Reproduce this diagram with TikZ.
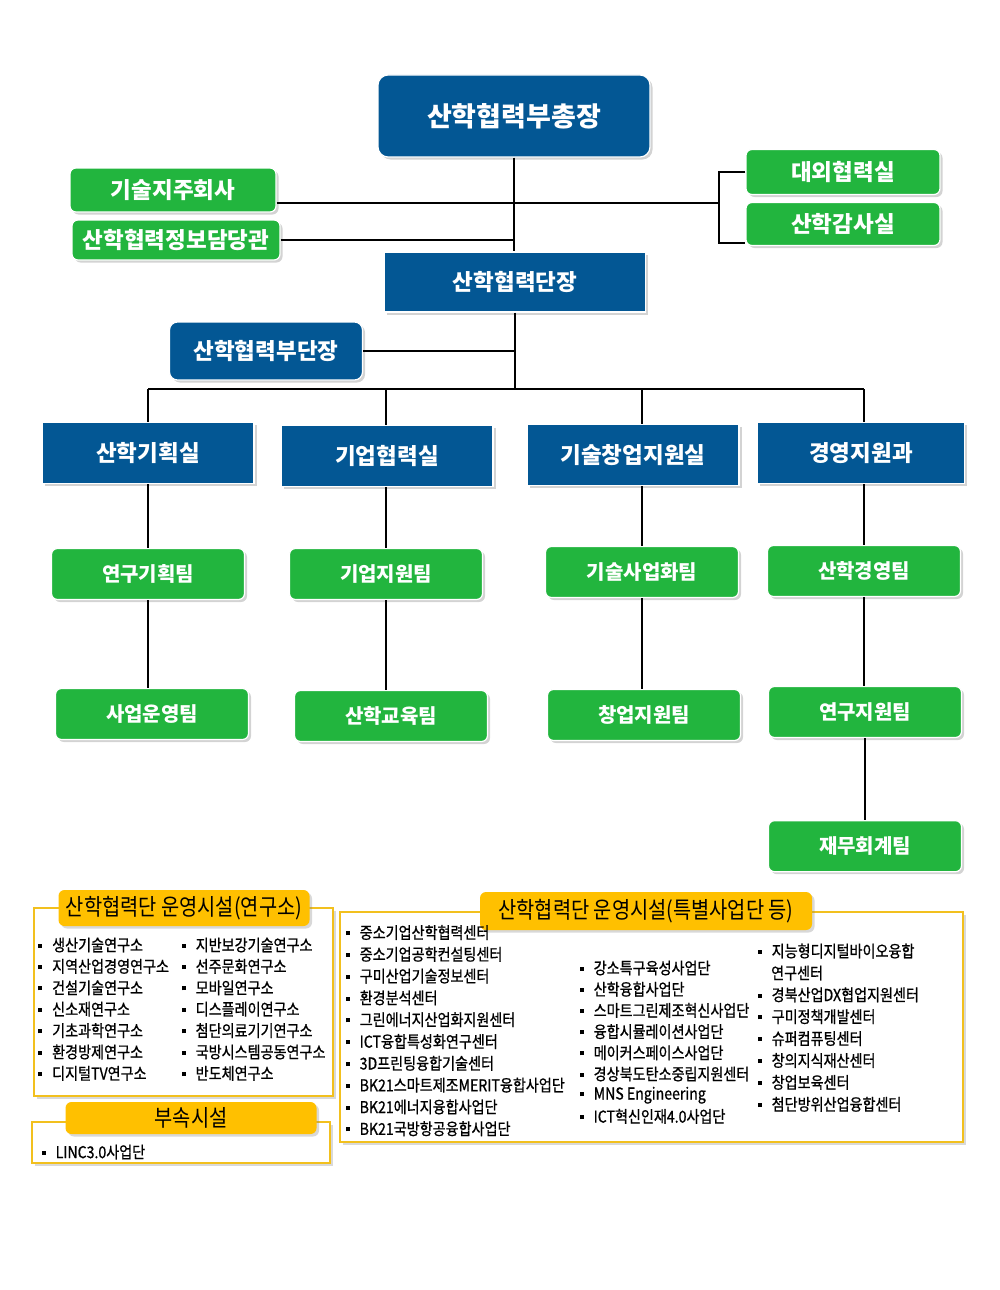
\documentclass[tikz,border=0pt]{standalone}
\usepackage{fontspec}
\setmainfont{Noto Sans CJK KR}
\newfontfamily\narrowfont{Noto Sans CJK KR}[FakeStretch=0.86]
\newfontfamily\itemfont{Noto Sans CJK KR}[FakeStretch=0.86,FakeBold=0.8]
\usetikzlibrary{positioning,shadows}

\definecolor{orgblue}{RGB}{3,87,148}
\definecolor{orggreen}{RGB}{34,181,62}
\definecolor{tabyellow}{RGB}{255,192,0}
\definecolor{lineyellow}{RGB}{242,192,30}

% small square bullet in front of each list entry
\newcommand\sq{\raisebox{3.5pt}{\rule{4pt}{4pt}}\hspace{10pt}}

\begin{document}
\begin{tikzpicture}[x=1pt,y=-1pt,
    box/.style={draw=white, line width=1.2pt, text=white, inner sep=0pt,
      font=\bfseries\fontsize{22.5}{26}\selectfont,
      drop shadow={shadow xshift=2.5pt, shadow yshift=-2.5pt, opacity=.35}},
    bluebox/.style={box, fill=orgblue, minimum width=212pt, minimum height=61pt},
    bluerbox/.style={bluebox, rounded corners=8pt},
    greenbox/.style={box, fill=orggreen, rounded corners=6pt, minimum width=193pt,
      minimum height=51pt, font=\bfseries\fontsize{20}{24}\selectfont},
    topgreen/.style={greenbox, minimum width=206pt, minimum height=44pt,
      font=\bfseries\fontsize{22.5}{26}\selectfont},
    link/.style={draw=black, line width=2.2pt},
    frame/.style={draw=lineyellow, line width=1.8pt, fill=white,
      drop shadow={shadow xshift=3pt, shadow yshift=-3pt, opacity=.3}},
    tab/.style={fill=tabyellow, rounded corners=6pt, inner sep=0pt,
      font=\narrowfont\fontsize{23}{26}\selectfont,
      drop shadow={shadow xshift=2.5pt, shadow yshift=-2.5pt, opacity=.3}},
    item/.style={anchor=west, inner sep=0pt, font=\itemfont\fontsize{16.4}{19}\selectfont}]

  \useasboundingbox (0,0) rectangle (1000,1290);

  % top level
  \node[bluerbox, minimum width=272pt, minimum height=82pt, rounded corners=10pt,
        font=\bfseries\fontsize{27}{30}\selectfont] (vp) at (514,116) {산학협력부총장};
  \node[topgreen] (jiju) at (173,190) {기술지주회사};
  \node[topgreen, minimum width=208pt, minimum height=40pt] (info) at (176,240) {산학협력정보담당관};
  \node[topgreen, minimum width=194pt, minimum height=45pt] (ext) at (843,172) {대외협력실};
  \node[topgreen, minimum width=194pt, minimum height=43pt] (aud) at (843,224) {산학감사실};
  \node[bluebox, minimum width=261pt, minimum height=60pt] (dj) at (515,282) {산학협력단장};
  \node[bluerbox, minimum width=193pt, minimum height=58pt] (bj) at (266,351) {산학협력부단장};

  % departments
  \node[bluebox] (plan) at (148,453) {산학기획실};
  \node[bluebox] (coop) at (387,456) {기업협력실};
  \node[bluebox] (venture) at (633,455) {기술창업지원실};
  \node[bluebox, minimum width=207pt] (mgmt) at (861,453) {경영지원과};

  % teams
  \node[greenbox] (research) at (148,574) {연구기획팀};
  \node[greenbox] (biz) at (386,574) {기업지원팀};
  \node[greenbox] (commer) at (642,572) {기술사업화팀};
  \node[greenbox] (uimgmt) at (864,571) {산학경영팀};
  \node[greenbox] (oper) at (152,714) {사업운영팀};
  \node[greenbox] (edu) at (391,716) {산학교육팀};
  \node[greenbox] (startup) at (644,715) {창업지원팀};
  \node[greenbox] (rsupport) at (865,712) {연구지원팀};
  \node[greenbox] (finance) [below=82pt of rsupport] {재무회계팀};

  \coordinate (br) at (719,203);
  \coordinate (bus) at (514,389);

  \draw[link] (vp.south) -- (vp.south |- dj.north);
  \draw[link] (jiju.east |- br) -- (br);
  \draw[link] (ext.west) -| (br) |- ([yshift=3pt]aud.south west);
  \draw[link] (info.east) -- (info.east -| vp.south);
  \draw[link] (bj.east) -- (bj.east -| dj.south);
  \draw[link] (dj.south) -- (dj.south |- bus);
  \draw[link] (research.north |- bus) -- (uimgmt.north |- bus);
  \foreach \d/\t/\s in {plan/research/oper, coop/biz/edu, venture/commer/startup, mgmt/uimgmt/rsupport} {
    \draw[link] (\t.north |- bus) -- (\t.north |- \d.north);
    \draw[link] (\t.north |- \d.south) -- (\t.north);
    \draw[link] (\t.south) -- (\t.south |- \s.north);
  }
  \draw[link] (rsupport.south) -- (finance.north);

  % facilities
  \draw[frame] (34,908) rectangle (333,1096);
  \draw[frame] (32,1122) rectangle (330,1163);
  \draw[frame] (340,912) rectangle (963,1142);
  \node[tab, minimum width=251pt, minimum height=36pt] (labtab) at (184,908) {산학협력단 운영시설(연구소)};
  \node[tab, minimum width=251pt, minimum height=32pt] (subtab) at (191,1118) {부속시설};
  \node[tab, minimum width=332pt, minimum height=38pt] (spectab) at (646,911) {산학협력단 운영시설(특별사업단 등)};

  \foreach \t [count=\i from 0] in {생산기술연구소, 지역산업경영연구소, 건설기술연구소, 신소재연구소,
      기초과학연구소, 환경방제연구소, 디지털TV연구소}
    \node[item] (laba\i) at (38,945+21.4*\i) {\sq\t};
  \foreach \t [count=\i from 0] in {지반보강기술연구소, 선주문화연구소, 모바일연구소, 디스플레이연구소,
      첨단의료기기연구소, 국방시스템공동연구소, 반도체연구소}
    \node[item] (labb\i) at (181.5,945+21.4*\i) {\sq\t};
  \node[item] (linc) at (41.5,1152) {\sq LINC3.0사업단};

  \foreach \t [count=\i from 0] in {중소기업산학협력센터, 중소기업공학컨설팅센터, 구미산업기술정보센터,
      환경분석센터, 그린에너지산업화지원센터, ICT융합특성화연구센터, 3D프린팅융합기술센터,
      BK21스마트제조MERIT융합사업단, BK21에너지융합사업단, BK21국방항공융합사업단}
    \node[item] (spa\i) at (345.5,932.5+21.8*\i) {\sq\t};
  \foreach \t [count=\i from 0] in {강소특구육성사업단, 산학융합사업단, 스마트그린제조혁신사업단,
      융합시뮬레이션사업단, 메이커스페이스사업단, 경상북도탄소중립지원센터, MNS Engineering,
      ICT혁신인재4.0사업단}
    \node[item] (spb\i) at (579.5,968+21.2*\i) {\sq\t};
  \node[item] (spc0) at (757.5,951) {\sq 지능형디지털바이오융합};
  \node[item] (spc0b) at (771,973) {연구센터};
  \foreach \t [count=\i from 2] in {경북산업DX협업지원센터, 구미정책개발센터, 슈퍼컴퓨팅센터,
      창의지식재산센터, 창업보육센터, 첨단방위산업융합센터}
    \node[item] (spc\i) at (757.5,951+21.9*\i) {\sq\t};

\end{tikzpicture}
\end{document}
